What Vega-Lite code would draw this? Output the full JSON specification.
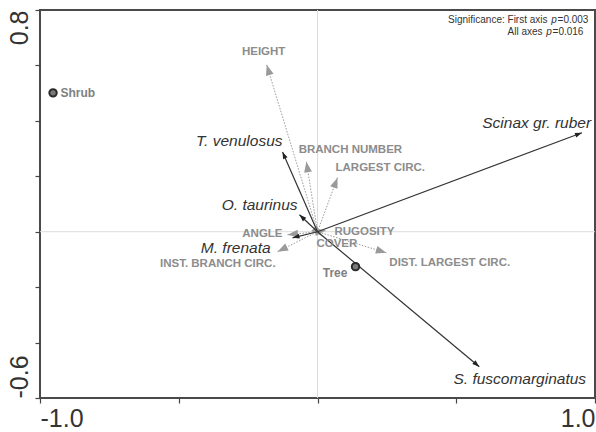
{
  "$schema": "https://vega.github.io/schema/vega-lite/v6.json",
  "width": 555,
  "height": 388,
  "autosize": "none",
  "padding": {"left": 40, "top": 10, "right": 1, "bottom": 34},
  "background": "white",
  "config": {
    "view": {"stroke": "#4a4a4a", "strokeWidth": 2},
    "font": "Liberation Sans"
  },
  "datasets": {
    "species": [
      {"name": "Scinax gr. ruber", "x": 0.953, "y": 0.357, "lx": 0.986, "ly": 0.393},
      {"name": "S. fuscomarginatus", "x": 0.583, "y": -0.487, "lx": 0.968, "ly": -0.533},
      {"name": "T. venulosus", "x": -0.126, "y": 0.288, "lx": -0.126, "ly": 0.326},
      {"name": "O. taurinus", "x": -0.065, "y": 0.061, "lx": -0.072, "ly": 0.097},
      {"name": "M. frenata", "x": -0.09, "y": -0.022, "lx": -0.169, "ly": -0.058}
    ],
    "env": [
      {"name": "HEIGHT", "x": -0.183, "y": 0.602, "lx": -0.194, "ly": 0.649, "anchor": "middle"},
      {"name": "BRANCH NUMBER", "x": -0.04, "y": 0.252, "lx": -0.068, "ly": 0.296, "anchor": "start"},
      {"name": "LARGEST CIRC.", "x": 0.072, "y": 0.195, "lx": 0.065, "ly": 0.231, "anchor": "start"},
      {"name": "ANGLE", "x": -0.108, "y": -0.011, "lx": -0.126, "ly": -0.007, "anchor": "end"},
      {"name": "INST. BRANCH CIRC.", "x": -0.144, "y": -0.072, "lx": -0.151, "ly": -0.115, "anchor": "end"},
      {"name": "RUGOSITY", "x": 0.029, "y": 0.004, "lx": 0.061, "ly": 0.0, "anchor": "start"},
      {"name": "COVER", "x": 0.014, "y": -0.014, "lx": -0.004, "ly": -0.043, "anchor": "start"},
      {"name": "DIST. LARGEST CIRC.", "x": 0.248, "y": -0.076, "lx": 0.259, "ly": -0.112, "anchor": "start"}
    ],
    "sites": [
      {"name": "Shrub", "x": -0.953, "y": 0.501, "lx": -0.926, "ly": 0.501, "anchor": "start"},
      {"name": "Tree", "x": 0.137, "y": -0.126, "lx": 0.108, "ly": -0.148, "anchor": "end"}
    ],
    "note": [
      {"text": "Significance: First axis", "x": 0.829, "y": 0.764, "part": "head"},
      {"text": "p", "x": 0.852, "y": 0.764, "part": "p"},
      {"text": "=0.003", "x": 0.865, "y": 0.764, "part": "tail"},
      {"text": "All axes", "x": 0.811, "y": 0.721, "part": "head"},
      {"text": "p", "x": 0.834, "y": 0.721, "part": "p"},
      {"text": "=0.016", "x": 0.847, "y": 0.721, "part": "tail"}
    ]
  },
  "layer": [
    {
      "data": {"values": [{"v": 0}]},
      "mark": {"type": "rule", "color": "#dcdcdc", "strokeWidth": 1},
      "encoding": {"y": {"field": "v", "type": "quantitative", "scale": {"domain": [-0.6, 0.8], "nice": false, "zero": false},
        "axis": {"values": [-0.6, -0.4, -0.2, 0, 0.2, 0.4, 0.6, 0.8], "title": null, "grid": false, "domain": false,
          "tickColor": "#444", "tickSize": 5, "tickWidth": 1.2, "labelFontSize": 25, "labelColor": "#333", "labelPadding": 3,
          "labelAngle": 270, "labelBaseline": "bottom",
          "labelAlign": {"expr": "datum.value > 0 ? 'right' : 'left'"},
          "labelExpr": "datum.value > 0.79 ? '0.8' : (datum.value < -0.59 ? '-0.6' : '')"}}}
    },
    {
      "data": {"values": [{"v": 0}]},
      "mark": {"type": "rule", "color": "#dcdcdc", "strokeWidth": 1},
      "encoding": {"x": {"field": "v", "type": "quantitative", "scale": {"domain": [-1, 1], "nice": false, "zero": false},
        "axis": {"values": [-1, -0.5, 0, 0.5, 1], "title": null, "grid": false, "domain": false,
          "tickColor": "#444", "tickSize": 5, "tickWidth": 1.2, "labelFontSize": 25, "labelColor": "#333", "labelPadding": 3,
          "labelFlush": true,
          "labelExpr": "datum.value == -1 ? '-1.0' : (datum.value == 1 ? '1.0' : '')"}}}
    },
    {
      "data": {"name": "env"},
      "mark": {"type": "rule", "color": "#9a9a9a", "strokeWidth": 1, "strokeDash": [1.5, 1.5]},
      "encoding": {
        "x": {"field": "x", "type": "quantitative", "scale": {"domain": [-1, 1], "nice": false, "zero": false}},
        "y": {"field": "y", "type": "quantitative", "scale": {"domain": [-0.6, 0.8], "nice": false, "zero": false}},
        "x2": {"datum": 0}, "y2": {"datum": 0}}
    },
    {
      "data": {"name": "env"},
      "transform": [{"calculate": "atan2(datum.x, datum.y) * 180 / PI", "as": "ang"}],
      "mark": {"type": "point", "filled": true, "color": "#9a9a9a", "opacity": 1, "shape": "M0,0L0.75,2L-0.75,2Z", "size": 110},
      "encoding": {
        "x": {"field": "x", "type": "quantitative", "scale": {"domain": [-1, 1], "nice": false, "zero": false}},
        "y": {"field": "y", "type": "quantitative", "scale": {"domain": [-0.6, 0.8], "nice": false, "zero": false}},
        "angle": {"field": "ang", "type": "quantitative", "scale": null}}
    },
    {
      "data": {"name": "species"},
      "mark": {"type": "rule", "color": "#333", "strokeWidth": 1.2},
      "encoding": {
        "x": {"field": "x", "type": "quantitative", "scale": {"domain": [-1, 1], "nice": false, "zero": false}},
        "y": {"field": "y", "type": "quantitative", "scale": {"domain": [-0.6, 0.8], "nice": false, "zero": false}},
        "x2": {"datum": 0}, "y2": {"datum": 0}}
    },
    {
      "data": {"name": "species"},
      "transform": [{"calculate": "atan2(datum.x, datum.y) * 180 / PI", "as": "ang"}],
      "mark": {"type": "point", "filled": true, "color": "#222", "opacity": 1, "shape": "M0,0L0.7,2L-0.7,2Z", "size": 49},
      "encoding": {
        "x": {"field": "x", "type": "quantitative", "scale": {"domain": [-1, 1], "nice": false, "zero": false}},
        "y": {"field": "y", "type": "quantitative", "scale": {"domain": [-0.6, 0.8], "nice": false, "zero": false}},
        "angle": {"field": "ang", "type": "quantitative", "scale": null}}
    },
    {
      "data": {"name": "sites"},
      "mark": {"type": "point", "shape": "circle", "filled": true, "fill": "#7a7a7a", "stroke": "#2a2a2a", "strokeWidth": 2, "opacity": 1, "size": 55},
      "encoding": {
        "x": {"field": "x", "type": "quantitative", "scale": {"domain": [-1, 1], "nice": false, "zero": false}},
        "y": {"field": "y", "type": "quantitative", "scale": {"domain": [-0.6, 0.8], "nice": false, "zero": false}}}
    },
    {
      "data": {"name": "species"},
      "mark": {"type": "text", "align": "right", "baseline": "middle", "fontStyle": "italic", "fontSize": 15.5, "color": "#333"},
      "encoding": {
        "x": {"field": "lx", "type": "quantitative", "scale": {"domain": [-1, 1], "nice": false, "zero": false}},
        "y": {"field": "ly", "type": "quantitative", "scale": {"domain": [-0.6, 0.8], "nice": false, "zero": false}},
        "text": {"field": "name"}}
    },
    {
      "data": {"name": "env"},
      "transform": [{"filter": "datum.anchor == 'start'"}],
      "mark": {"type": "text", "align": "left", "baseline": "middle", "fontWeight": "bold", "fontSize": 11.5, "color": "#8c8c8c"},
      "encoding": {
        "x": {"field": "lx", "type": "quantitative", "scale": {"domain": [-1, 1], "nice": false, "zero": false}},
        "y": {"field": "ly", "type": "quantitative", "scale": {"domain": [-0.6, 0.8], "nice": false, "zero": false}},
        "text": {"field": "name"}}
    },
    {
      "data": {"name": "env"},
      "transform": [{"filter": "datum.anchor == 'end'"}],
      "mark": {"type": "text", "align": "right", "baseline": "middle", "fontWeight": "bold", "fontSize": 11.5, "color": "#8c8c8c"},
      "encoding": {
        "x": {"field": "lx", "type": "quantitative", "scale": {"domain": [-1, 1], "nice": false, "zero": false}},
        "y": {"field": "ly", "type": "quantitative", "scale": {"domain": [-0.6, 0.8], "nice": false, "zero": false}},
        "text": {"field": "name"}}
    },
    {
      "data": {"name": "env"},
      "transform": [{"filter": "datum.anchor == 'middle'"}],
      "mark": {"type": "text", "align": "center", "baseline": "middle", "fontWeight": "bold", "fontSize": 11.5, "color": "#8c8c8c"},
      "encoding": {
        "x": {"field": "lx", "type": "quantitative", "scale": {"domain": [-1, 1], "nice": false, "zero": false}},
        "y": {"field": "ly", "type": "quantitative", "scale": {"domain": [-0.6, 0.8], "nice": false, "zero": false}},
        "text": {"field": "name"}}
    },
    {
      "data": {"name": "sites"},
      "transform": [{"filter": "datum.anchor == 'start'"}],
      "mark": {"type": "text", "align": "left", "baseline": "middle", "fontWeight": "bold", "fontSize": 12, "color": "#808080"},
      "encoding": {
        "x": {"field": "lx", "type": "quantitative", "scale": {"domain": [-1, 1], "nice": false, "zero": false}},
        "y": {"field": "ly", "type": "quantitative", "scale": {"domain": [-0.6, 0.8], "nice": false, "zero": false}},
        "text": {"field": "name"}}
    },
    {
      "data": {"name": "sites"},
      "transform": [{"filter": "datum.anchor == 'end'"}],
      "mark": {"type": "text", "align": "right", "baseline": "middle", "fontWeight": "bold", "fontSize": 12, "color": "#808080"},
      "encoding": {
        "x": {"field": "lx", "type": "quantitative", "scale": {"domain": [-1, 1], "nice": false, "zero": false}},
        "y": {"field": "ly", "type": "quantitative", "scale": {"domain": [-0.6, 0.8], "nice": false, "zero": false}},
        "text": {"field": "name"}}
    },
    {
      "data": {"name": "note"},
      "transform": [{"filter": "datum.part == 'head'"}],
      "mark": {"type": "text", "align": "right", "baseline": "middle", "fontSize": 10, "color": "#333"},
      "encoding": {
        "x": {"field": "x", "type": "quantitative", "scale": {"domain": [-1, 1], "nice": false, "zero": false}},
        "y": {"field": "y", "type": "quantitative", "scale": {"domain": [-0.6, 0.8], "nice": false, "zero": false}},
        "text": {"field": "text"}}
    },
    {
      "data": {"name": "note"},
      "transform": [{"filter": "datum.part == 'p'"}],
      "mark": {"type": "text", "align": "center", "baseline": "middle", "fontSize": 10, "fontStyle": "italic", "color": "#333"},
      "encoding": {
        "x": {"field": "x", "type": "quantitative", "scale": {"domain": [-1, 1], "nice": false, "zero": false}},
        "y": {"field": "y", "type": "quantitative", "scale": {"domain": [-0.6, 0.8], "nice": false, "zero": false}},
        "text": {"field": "text"}}
    },
    {
      "data": {"name": "note"},
      "transform": [{"filter": "datum.part == 'tail'"}],
      "mark": {"type": "text", "align": "left", "baseline": "middle", "fontSize": 10, "color": "#333"},
      "encoding": {
        "x": {"field": "x", "type": "quantitative", "scale": {"domain": [-1, 1], "nice": false, "zero": false}},
        "y": {"field": "y", "type": "quantitative", "scale": {"domain": [-0.6, 0.8], "nice": false, "zero": false}},
        "text": {"field": "text"}}
    }
  ]
}
